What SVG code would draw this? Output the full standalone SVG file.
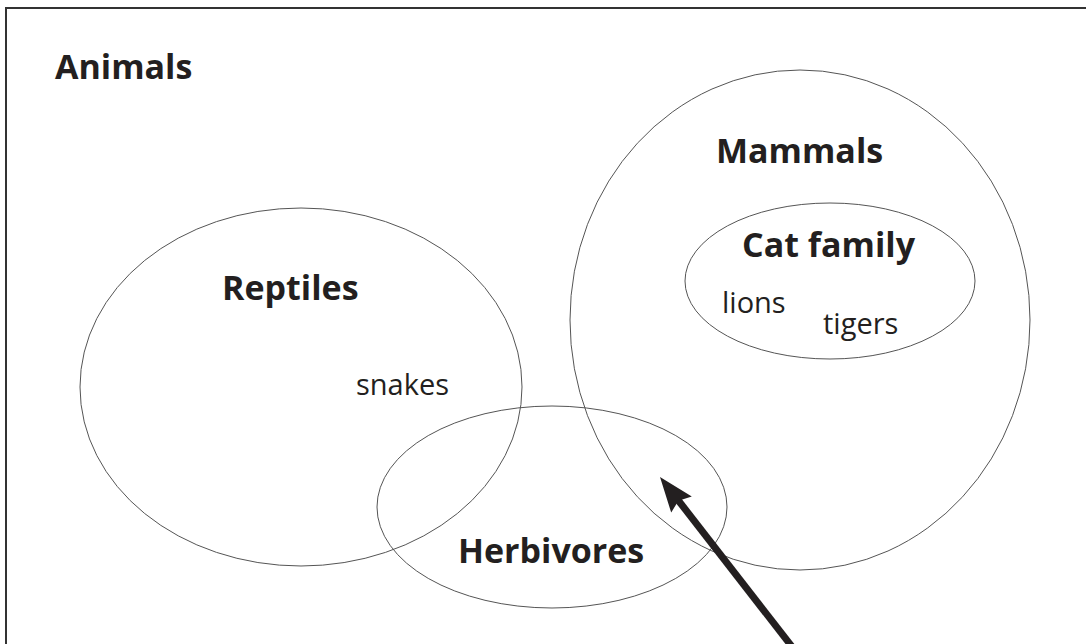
<svg xmlns="http://www.w3.org/2000/svg" width="1086" height="644" viewBox="0 0 1086 644">
<style>
.set{fill:none;stroke:#555;stroke-width:1}
.b{font-family:"Open Sans","Liberation Sans",sans-serif;font-weight:bold;font-size:34px;fill:#231f20}
.r{font-family:"Open Sans","Liberation Sans",sans-serif;font-size:29px;fill:#231f20}
</style>
<rect width="1086" height="644" fill="#fff"/>
<path d="M6,644 V8 H1086" fill="none" stroke="#333" stroke-width="2"/>
<g id="animals"><text class="b" x="55" y="79">Animals</text></g>
<g id="reptiles"><ellipse class="set" cx="301" cy="387" rx="221" ry="179"/><text class="b" x="222" y="300">Reptiles</text><text class="r" x="356" y="395">snakes</text></g>
<g id="mammals"><ellipse class="set" cx="800" cy="320" rx="230" ry="250"/><text class="b" x="716" y="163">Mammals</text></g>
<g id="catfamily"><ellipse class="set" cx="830" cy="281" rx="145" ry="78"/><text class="b" x="742" y="257">Cat family</text><text class="r" x="722" y="313">lions</text><text class="r" x="823" y="334">tigers</text></g>
<g id="herbivores"><ellipse class="set" cx="552" cy="507" rx="175" ry="101"/><text class="b" x="458" y="563">Herbivores</text></g>
<g id="connectors">
<line x1="678" y1="500" x2="800" y2="657" stroke="#231f20" stroke-width="7"/>
<polygon points="660,477 691.8,496.6 678.4,500.7 671.2,512.6" fill="#231f20"/>
</g>
</svg>
